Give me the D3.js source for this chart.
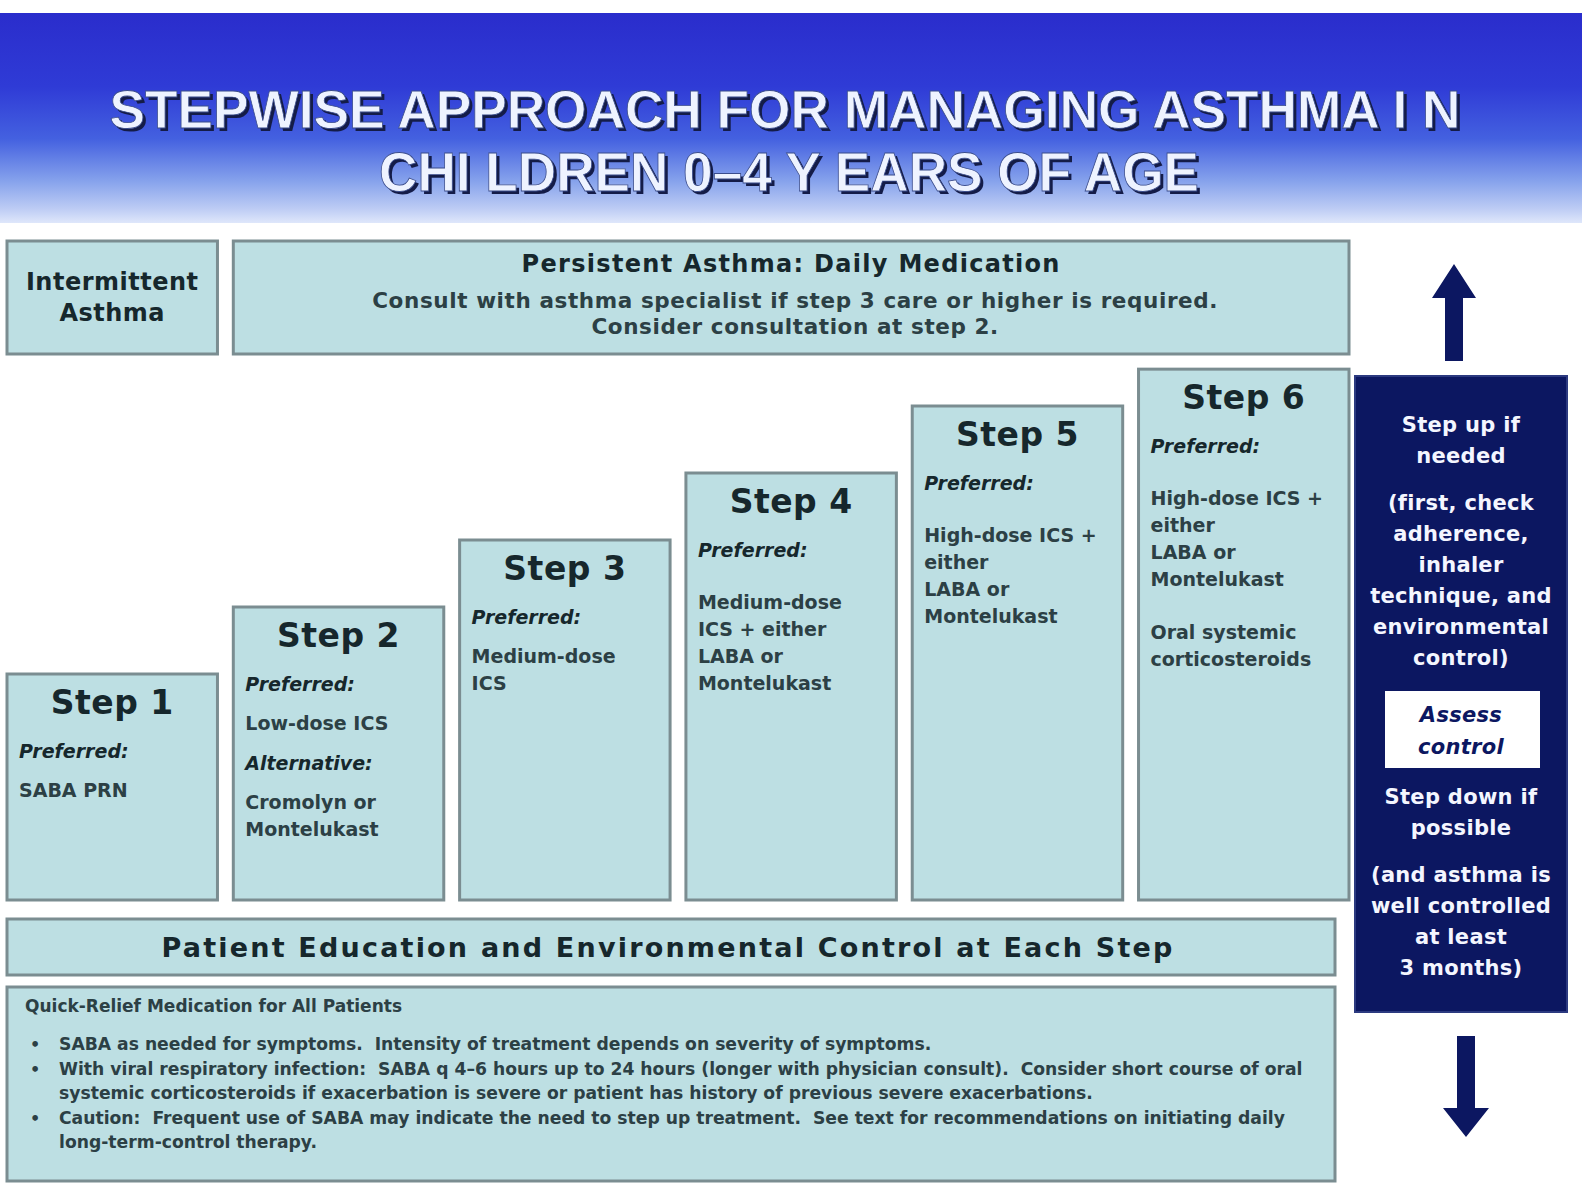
<!DOCTYPE html>
<html>
<head>
<meta charset="utf-8">
<script src="https://cdn.jsdelivr.net/npm/d3@7"></script>
<style>
  body { margin: 0; background: #fff; }
  text { white-space: pre; }
</style>
</head>
<body>
<div id="chart"></div>
<script>
// ---- content ----
const titleLines = ["STEPWISE APPROACH FOR MANAGING ASTHMA I N", "CHI LDREN 0\u20134 Y EARS OF AGE"];

const stepNames = ["Step 1", "Step 2", "Step 3", "Step 4", "Step 5", "Step 6"];
// how high each step box rises (in "step" units)
const stepRise = [1, 2, 3, 4, 5, 5.55];
// "*" = italic label, "" = small gap
const stepLines = [
  ["*Preferred:", "SABA PRN"],
  ["*Preferred:", "Low-dose ICS", "", "*Alternative:", "Cromolyn or", "Montelukast"],
  ["*Preferred:", "Medium-dose", "ICS"],
  ["*Preferred:", "", "Medium-dose", "ICS + either", "LABA or", "Montelukast"],
  ["*Preferred:", "", "High-dose ICS +", "either", "LABA or", "Montelukast"],
  ["*Preferred:", "", "High-dose ICS +", "either", "LABA or", "Montelukast", "", "", "Oral systemic", "corticosteroids"]
];

const intermittentLines = ["Intermittent", "Asthma"];
const persistentTitle = "Persistent Asthma: Daily Medication";
const persistentLines = [
  "Consult with asthma specialist if step 3 care or higher is required.",
  "Consider consultation at step 2."
];
const educationLine = "Patient Education and Environmental Control at Each Step";
const reliefTitle = "Quick-Relief Medication for All Patients";
const reliefBullets = [
  ["SABA as needed for symptoms.  Intensity of treatment depends on severity of symptoms."],
  ["With viral respiratory infection:  SABA q 4\u20136 hours up to 24 hours (longer with physician consult).  Consider short course of oral",
   "systemic corticosteroids if exacerbation is severe or patient has history of previous severe exacerbations."],
  ["Caution:  Frequent use of SABA may indicate the need to step up treatment.  See text for recommendations on initiating daily",
   "long-term-control therapy."]
];
const stepUpLines = ["Step up if", "needed", "", "(first, check", "adherence,", "inhaler", "technique, and", "environmental", "control)"];
const assessLines = ["Assess", "control"];
const stepDownLines = ["Step down if", "possible", "", "(and asthma is", "well controlled", "at least", "3 months)"];

// ---- drawing ----
const W = 1582, H = 1184;
const boxFill = "#bddfe3", boxStroke = "#7b8d91", ink = "#16272c", body = "#2c4045";
const navy = "#0c1761";
const boxFont = "'DejaVu Sans', sans-serif";

const svg = d3.select("#chart").append("svg")
  .attr("width", W).attr("height", H)
  .style("display", "block");

// title band
const defs = svg.append("defs");
const grad = defs.append("linearGradient").attr("id", "band")
  .attr("x1", 0).attr("y1", 0).attr("x2", 0).attr("y2", 1);
[[0, "#2a2dcc"], [0.35, "#2f3bd6"], [0.6, "#4461e0"], [0.8, "#86a2ec"], [0.93, "#bccbf4"], [1, "#dfe7fb"]]
  .forEach(([o, c]) => grad.append("stop").attr("offset", o).attr("stop-color", c));

svg.append("rect").attr("x", 0).attr("y", 13).attr("width", W).attr("height", 210)
  .attr("fill", "url(#band)");

const titleSpec = [
  {cx: 785, base: 128, len: 1351, size: 54},
  {cx: 789, base: 191, len: 820, size: 55}
];
titleLines.forEach((t, i) => {
  const s = titleSpec[i];
  [["#141c48", 3, 3], ["#eef3ff", 0, 0]].forEach(([fill, dx, dy]) => {
    svg.append("text")
      .attr("x", s.cx + dx).attr("y", s.base + dy)
      .attr("text-anchor", "middle")
      .attr("textLength", s.len).attr("lengthAdjust", "spacingAndGlyphs")
      .attr("font-family", "'Liberation Sans', Arial, sans-serif")
      .attr("font-weight", "bold").attr("font-size", s.size)
      .attr("fill", fill)
      .attr("stroke", dx ? "none" : "#3a4c8c").attr("stroke-width", 0.8)
      .text(t);
  });
});

function box(x, y, w, h) {
  return svg.append("rect").attr("x", x).attr("y", y).attr("width", w).attr("height", h)
    .attr("fill", boxFill).attr("stroke", boxStroke).attr("stroke-width", 3);
}
function label(x, y, t, size, opts = {}) {
  return svg.append("text").attr("x", x).attr("y", y)
    .attr("text-anchor", opts.anchor || "start")
    .attr("font-family", boxFont)
    .attr("font-weight", "bold")
    .attr("font-style", opts.italic ? "italic" : "normal")
    .attr("font-size", size)
    .attr("letter-spacing", opts.ls || 0)
    .attr("fill", opts.fill || ink)
    .text(t);
}

// scales for the staircase
const x = d3.scaleBand().domain(stepNames).range([7, 1349]).paddingInner(0.07);
const y = d3.scaleLinear().domain([0, 6]).range([741, 339]);
const stepBottom = 900;

// header boxes
const topY = 241, topH = 113;
box(x("Step 1"), topY, x.bandwidth(), topH);
intermittentLines.forEach((t, i) =>
  label(x("Step 1") + x.bandwidth() / 2, 290 + i * 31, t, 24, {anchor: "middle", ls: 0.5}));

const pLeft = x("Step 2"), pRight = x("Step 6") + x.bandwidth();
box(pLeft, topY, pRight - pLeft, topH);
label((pLeft + pRight) / 2, 272, persistentTitle, 24, {anchor: "middle", ls: 1.3});
persistentLines.forEach((t, i) =>
  label((pLeft + pRight) / 2 + 4, 308 + i * 26, t, 21.5, {anchor: "middle", ls: 0.6, fill: body}));

// step boxes
stepNames.forEach((name, i) => {
  const bx = x(name), top = y(stepRise[i]);
  box(bx, top, x.bandwidth(), stepBottom - top);
  label(bx + x.bandwidth() / 2, top + 40, name, 33, {anchor: "middle", ls: 0.5});
  let cy = top + 84;
  stepLines[i].forEach(line => {
    if (line === "") { cy += 13; return; }
    const italic = line.startsWith("*");
    label(bx + 12, cy, italic ? line.slice(1) : line, 19, {italic, fill: italic ? ink : body});
    cy += italic ? 39 : 27;
  });
});

// bottom boxes
const bLeft = 7, bRight = 1335;
box(bLeft, 919, bRight - bLeft, 56);
label((bLeft + bRight) / 2 - 3, 957, educationLine, 27, {anchor: "middle", ls: 2.2});

box(bLeft, 987, bRight - bLeft, 194);
label(25, 1012, reliefTitle, 17, {fill: body});
let ry = 1050;
reliefBullets.forEach(lines => {
  label(30, ry, "\u2022", 16, {fill: body});
  lines.forEach(t => {
    label(59, ry, t, 17.2, {fill: body});
    ry += 24.5;
  });
});

// right-hand panel
const panel = {x: 1355, y: 376, w: 212, h: 636};
const pcx = panel.x + panel.w / 2;
svg.append("rect").attr("x", panel.x).attr("y", panel.y).attr("width", panel.w).attr("height", panel.h)
  .attr("fill", navy).attr("stroke", "#2c3a80").attr("stroke-width", 2);

function stack(lines, startY, pitch, opts) {
  let cy = startY;
  lines.forEach(t => {
    if (t === "") { cy += 16; return; }
    label(pcx, cy, t, 21, Object.assign({anchor: "middle", fill: "#f4f6ff", ls: 0.3}, opts));
    cy += pitch;
  });
}
stack(stepUpLines, 432, 31, {});
svg.append("rect").attr("x", 1385).attr("y", 691).attr("width", 155).attr("height", 77)
  .attr("fill", "#ffffff");
stack(assessLines, 722, 32, {italic: true, fill: navy});
stack(stepDownLines, 804, 31, {});

// arrows
const arrow = d3.line();
const ux = pcx - 7;
const up = [[ux - 9, 361], [ux - 9, 298], [ux - 22, 298], [ux, 264], [ux + 22, 298], [ux + 9, 298], [ux + 9, 361]];
const dx = pcx + 5;
const down = [[dx - 9, 1036], [dx - 9, 1108], [dx - 23, 1108], [dx, 1137], [dx + 23, 1108], [dx + 9, 1108], [dx + 9, 1036]];
svg.append("path").attr("d", arrow(up) + "Z").attr("fill", navy);
svg.append("path").attr("d", arrow(down) + "Z").attr("fill", navy);
</script>
</body>
</html>
